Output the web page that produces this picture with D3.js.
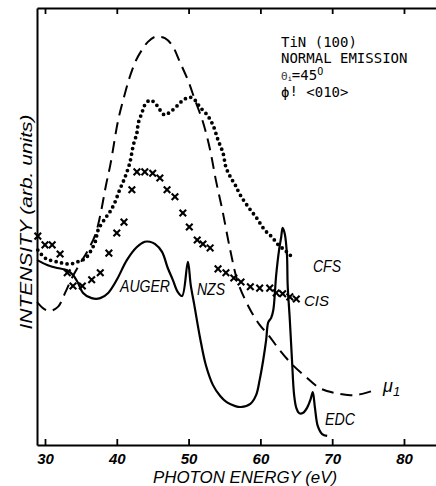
<!DOCTYPE html>
<html>
<head>
<meta charset="utf-8">
<script src="https://cdn.jsdelivr.net/npm/d3@7"></script>
<style>
  html, body { margin: 0; padding: 0; background: #fff; }
  svg { display: block; }
  .hand { font-family: "Liberation Sans", "DejaVu Sans", sans-serif; font-style: italic; }
  .mono { font-family: "DejaVu Sans Mono", "Liberation Mono", monospace; }
</style>
</head>
<body>
<svg id="chart" width="436" height="486"></svg>
<script>
// Photon energy (eV) / intensity (arb. units, 0-100) for TiN(100) spectra

// mu_1 : absorption-like yield curve (dashed)
const muEnergy = [28.9, 29.9, 30.7, 31.8, 32.8, 33.8, 34.9, 36.0, 37.0, 37.7, 38.5, 39.1, 40.2, 41.0, 41.8, 42.7, 43.5, 44.3, 45.3, 46.0, 46.7, 47.7, 48.8, 49.9, 50.9, 52.0, 53.0, 53.8, 54.7, 55.8, 56.9, 58.6, 59.9, 61.1, 62.7, 64.5, 66.2, 68.3, 70.4, 72.5, 74.2, 76.0];
const muValue  = [32.7, 31.1, 30.7, 31.6, 34.8, 38.4, 41.6, 44.6, 48.1, 52.6, 59.5, 64.1, 74.4, 79.6, 84.2, 88.1, 90.4, 92.2, 93.4, 93.4, 93.1, 91.5, 87.6, 83.5, 78.9, 73.9, 67.5, 60.6, 53.8, 44.6, 37.1, 30.9, 27.5, 25.2, 21.7, 18.3, 15.8, 13.0, 11.9, 11.4, 11.7, 12.6];

// CFS : constant final state spectrum (dotted)
const cfsEnergy = [29.0, 30.0, 30.7, 31.7, 32.5, 33.5, 34.5, 35.2, 35.8, 36.3, 37.0, 37.4, 38.4, 39.1, 39.7, 40.4, 41.1, 41.8, 42.3, 42.8, 43.0, 43.5, 43.9, 44.6, 45.3, 46.0, 46.7, 47.4, 48.1, 48.8, 49.5, 50.2, 50.9, 51.6, 52.6, 53.4, 54.1, 54.8, 55.2, 55.9, 56.5, 57.2, 58.3, 59.5, 60.6, 61.6, 62.5, 63.4, 64.1, 64.8];
const cfsValue  = [44.6, 42.8, 42.3, 41.9, 41.6, 41.4, 41.9, 42.3, 43.0, 44.2, 46.5, 49.2, 51.9, 53.5, 55.4, 58.4, 61.1, 64.5, 68.6, 71.4, 73.7, 76.0, 77.8, 78.9, 78.3, 76.7, 75.5, 76.2, 77.1, 78.3, 79.2, 79.6, 78.9, 77.3, 75.5, 73.2, 69.8, 66.8, 63.6, 61.1, 59.5, 57.2, 54.5, 51.9, 49.2, 47.6, 45.8, 44.6, 43.5, 42.8];

// CIS : constant initial state spectrum (crosses)
const cisEnergy = [29.0, 30.0, 31.0, 32.1, 33.1, 33.9, 35.2, 36.5, 37.7, 38.9, 40.0, 41.0, 42.1, 42.8, 43.9, 45.0, 46.0, 47.0, 48.1, 49.2, 50.1, 51.2, 52.0, 53.0, 54.1, 55.2, 56.3, 57.3, 58.6, 59.9, 61.3, 62.2, 63.1, 64.1, 65.0];
const cisValue  = [47.8, 45.8, 45.8, 43.7, 39.4, 36.4, 36.4, 37.8, 39.4, 43.9, 48.5, 51.0, 58.4, 62.5, 62.5, 62.2, 61.1, 58.4, 56.8, 53.1, 49.9, 46.9, 46.0, 45.1, 40.3, 39.4, 38.2, 37.3, 36.2, 35.9, 35.9, 34.8, 34.6, 33.9, 33.4];

// EDC : energy distribution curve (solid)
const edcEnergy = [28.9, 30.3, 31.7, 33.1, 33.9, 34.6, 35.3, 36.5, 37.7, 38.8, 40.0, 41.4, 42.8, 43.9, 44.6, 45.3, 46.3, 47.1, 47.8, 48.5, 49.1, 49.9, 50.3, 50.8, 51.6, 52.4, 53.4, 54.4, 55.3, 56.5, 57.3, 58.6, 59.4, 59.9, 60.4, 60.8, 61.1, 61.5, 61.8, 62.2, 62.6, 62.9, 63.1, 63.4, 63.7, 63.8, 64.1, 64.4, 64.7, 65.0, 65.4, 65.9, 66.5, 67.0, 67.3, 67.6, 68.0, 68.6, 69.3];
const edcValue  = [42.3, 41.2, 40.5, 40.0, 38.9, 37.1, 34.8, 33.6, 33.6, 34.8, 37.8, 42.3, 45.3, 46.5, 46.5, 46.0, 44.2, 40.5, 37.8, 35.0, 34.1, 41.9, 36.6, 32.0, 24.5, 18.3, 13.7, 11.2, 9.8, 8.9, 8.7, 9.4, 11.4, 14.9, 19.5, 24.0, 28.1, 29.1, 30.9, 38.9, 44.6, 47.6, 49.7, 48.3, 43.5, 36.6, 28.6, 19.5, 11.4, 8.5, 7.3, 7.3, 8.5, 10.5, 12.1, 8.5, 4.3, 2.5, 2.1];

// Axis ticks
const energyTicks = [30, 40, 50, 60, 70, 80];

const svg = d3.select("#chart");
const x = d3.scaleLinear().domain([28.886, 84.46]).range([37, 436]);
const y = d3.scaleLinear().domain([0, 100]).range([445, 8]);

const zip = (xs, ys) => xs.map((e, i) => [e, ys[i]]);
const line = d3.line()
  .x(d => x(d[0]))
  .y(d => y(d[1]))
  .curve(d3.curveCatmullRom.alpha(0.5));

// Frame: bottom, top and left axes
const gBottom = svg.append("g")
  .attr("transform", `translate(0,${y(0)})`)
  .call(d3.axisBottom(x).tickValues(energyTicks).tickSizeInner(-6).tickSizeOuter(0).tickPadding(8));
gBottom.selectAll("text")
  .attr("class", "hand")
  .style("font-size", "15px")
  .style("font-weight", "bold")
  .attr("fill", "#000");

svg.append("g")
  .attr("transform", `translate(0,${y(100)})`)
  .call(d3.axisTop(x).tickValues(energyTicks).tickSizeInner(-6).tickSizeOuter(0).tickFormat(""));

svg.append("g")
  .attr("transform", `translate(${x.range()[0]},0)`)
  .call(d3.axisLeft(y).tickValues([]).tickSizeOuter(0));

svg.selectAll(".domain").attr("stroke", "#000").attr("stroke-width", 2);
svg.selectAll(".tick line").attr("stroke", "#000").attr("stroke-width", 1.8);

// Curves
svg.append("path")
  .datum(zip(muEnergy, muValue))
  .attr("d", line)
  .attr("fill", "none")
  .attr("stroke", "#000")
  .attr("stroke-width", 2)
  .attr("stroke-dasharray", "12,7");

svg.append("path")
  .datum(zip(cfsEnergy, cfsValue))
  .attr("d", line)
  .attr("fill", "none")
  .attr("stroke", "#000")
  .attr("stroke-width", 3.8)
  .attr("stroke-linecap", "round")
  .attr("stroke-dasharray", "0,5.6");

svg.append("path")
  .datum(zip(edcEnergy, edcValue))
  .attr("d", line)
  .attr("fill", "none")
  .attr("stroke", "#000")
  .attr("stroke-width", 2.2)
  .attr("stroke-linejoin", "round");

svg.append("g")
  .selectAll("path")
  .data(zip(cisEnergy, cisValue))
  .join("path")
  .attr("transform", d => `translate(${x(d[0])},${y(d[1])})`)
  .attr("d", d3.symbol(d3.symbolTimes, 30))
  .attr("fill", "none")
  .attr("stroke", "#000")
  .attr("stroke-width", 2.1);

// Curve labels
const hand = (txt, px, py, size, len) => {
  const t = svg.append("text")
    .attr("class", "hand")
    .attr("x", px).attr("y", py)
    .style("font-size", size + "px")
    .text(txt);
  if (len) t.attr("textLength", len).attr("lengthAdjust", "spacingAndGlyphs");
  return t;
};
hand("AUGER", 120, 292, 16, 50);
hand("NZS", 197, 295, 16, 28);
hand("CFS", 313, 272, 16, 28);
hand("CIS", 304, 306, 15);
hand("EDC", 325, 425, 16, 30);
const mu = svg.append("text").attr("class", "hand").attr("x", 383).attr("y", 392).style("font-size", "18px");
mu.append("tspan").text("μ");
mu.append("tspan").attr("dy", 4).style("font-size", "13px").text("1");

// Axis titles
svg.append("text")
  .attr("class", "hand")
  .attr("x", 245).attr("y", 483)
  .attr("text-anchor", "middle")
  .style("font-size", "16px")
  .attr("textLength", 184).attr("lengthAdjust", "spacingAndGlyphs")
  .text("PHOTON ENERGY (eV)");

svg.append("text")
  .attr("class", "hand")
  .attr("transform", "translate(32,222) rotate(-90)")
  .attr("text-anchor", "middle")
  .style("font-size", "17px")
  .attr("textLength", 215).attr("lengthAdjust", "spacingAndGlyphs")
  .text("INTENSITY (arb. units)");

// Measurement conditions
const info = svg.append("g").attr("class", "mono").style("font-size", "14px");
info.append("text").attr("x", 281).attr("y", 47).text("TiN (100)");
info.append("text").attr("x", 281).attr("y", 63).text("NORMAL EMISSION");
const l3 = info.append("text").attr("x", 281).attr("y", 80);
l3.append("tspan").style("font-size", "11px").attr("fill", "#444").text("Θ");
l3.append("tspan").attr("dy", 1).style("font-size", "7px").text("i");
l3.append("tspan").attr("dy", -1).text("=45");
l3.append("tspan").attr("dy", -5).style("font-size", "10px").text("O");
const l4 = info.append("text").attr("x", 281).attr("y", 97);
l4.append("tspan").text("ϕ");
l4.append("tspan").attr("dy", -1).text("!");
l4.append("tspan").attr("dy", 1).text(" <010>");
</script>
</body>
</html>
